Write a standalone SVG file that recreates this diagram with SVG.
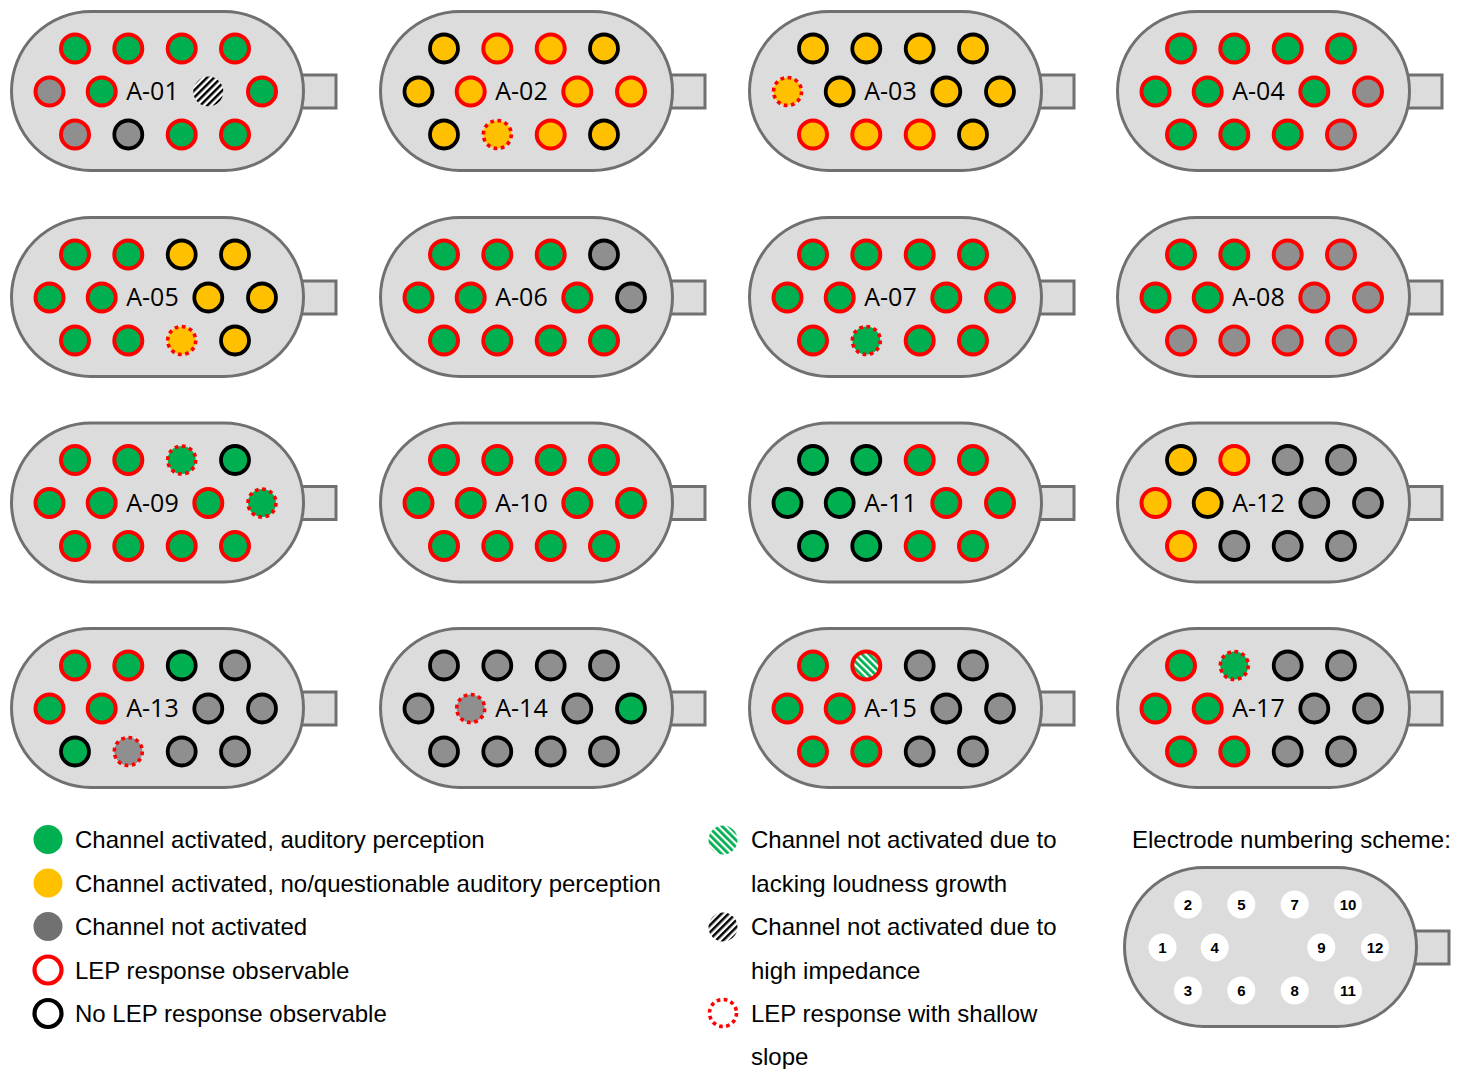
<svg xmlns="http://www.w3.org/2000/svg" xmlns:xlink="http://www.w3.org/1999/xlink" width="1463" height="1069" viewBox="0 0 1463 1069">
<style>
.pill{fill:#dcdcdc;stroke:#707070;stroke-width:3}
.conn{fill:#dcdcdc;stroke:#707070;stroke-width:3}
.lab{font-family:"Open Sans","Liberation Sans",sans-serif;font-size:25px;fill:#000;text-anchor:middle}
.leg{font-family:"Liberation Sans",Arial,sans-serif;font-size:24px;fill:#000}
.num{font-family:"Liberation Sans",Arial,sans-serif;font-size:15px;font-weight:bold;fill:#000;text-anchor:middle}
circle.g{fill:#00b050}
circle.y{fill:#ffc000}
circle.n{fill:#8f8f8f}
circle.r{stroke:#ff0000;stroke-width:4}
circle.b{stroke:#000;stroke-width:3.8}
circle.d{stroke:#ff0000;stroke-width:3.6;stroke-dasharray:3.7 3.6}
circle.hb{fill:url(#hatchBlack)}
circle.hg{fill:url(#hatchGreen)}
circle.w{fill:#fff}
</style>
<defs>
<pattern id="hatchBlack" patternUnits="userSpaceOnUse" width="5" height="5" patternTransform="rotate(45)">
<rect width="5" height="5" fill="#fff"/>
<rect width="2.5" height="5" fill="#000"/>
</pattern>
<pattern id="hatchGreen" patternUnits="userSpaceOnUse" width="5" height="5" patternTransform="rotate(-45)">
<rect width="5" height="5" fill="#fff"/>
<rect width="2.8" height="5" fill="#00b050"/>
</pattern>
<g id="body">
<rect class="conn" x="298" y="75" width="38" height="33"/>
<rect class="pill" x="11.5" y="11.5" width="292" height="159" rx="79.5" ry="79.5"/>
</g>
</defs>

<g id="A-01" transform="translate(0,0)">
<use xlink:href="#body"/>
<circle class="g r" cx="75" cy="48.5" r="14"/><circle class="g r" cx="128.3" cy="48.5" r="14"/><circle class="g r" cx="181.7" cy="48.5" r="14"/><circle class="g r" cx="235" cy="48.5" r="14"/>
<circle class="n r" cx="49.5" cy="91.5" r="14"/><circle class="g r" cx="101.7" cy="91.5" r="14"/><circle class="hb" cx="208.3" cy="91.5" r="15"/><circle class="g r" cx="262" cy="91.5" r="14"/>
<circle class="n r" cx="75" cy="134.5" r="14"/><circle class="n b" cx="128.3" cy="134.5" r="14"/><circle class="g r" cx="181.7" cy="134.5" r="14"/><circle class="g r" cx="235" cy="134.5" r="14"/>
<text class="lab" x="152.5" y="100">A-01</text>
</g>

<g id="A-02" transform="translate(369,0)">
<use xlink:href="#body"/>
<circle class="y b" cx="75" cy="48.5" r="14"/><circle class="y r" cx="128.3" cy="48.5" r="14"/><circle class="y r" cx="181.7" cy="48.5" r="14"/><circle class="y b" cx="235" cy="48.5" r="14"/>
<circle class="y b" cx="49.5" cy="91.5" r="14"/><circle class="y r" cx="101.7" cy="91.5" r="14"/><circle class="y r" cx="208.3" cy="91.5" r="14"/><circle class="y r" cx="262" cy="91.5" r="14"/>
<circle class="y b" cx="75" cy="134.5" r="14"/><circle class="y d" cx="128.3" cy="134.5" r="14"/><circle class="y r" cx="181.7" cy="134.5" r="14"/><circle class="y b" cx="235" cy="134.5" r="14"/>
<text class="lab" x="152.5" y="100">A-02</text>
</g>

<g id="A-03" transform="translate(738,0)">
<use xlink:href="#body"/>
<circle class="y b" cx="75" cy="48.5" r="14"/><circle class="y b" cx="128.3" cy="48.5" r="14"/><circle class="y b" cx="181.7" cy="48.5" r="14"/><circle class="y b" cx="235" cy="48.5" r="14"/>
<circle class="y d" cx="49.5" cy="91.5" r="14"/><circle class="y b" cx="101.7" cy="91.5" r="14"/><circle class="y b" cx="208.3" cy="91.5" r="14"/><circle class="y b" cx="262" cy="91.5" r="14"/>
<circle class="y r" cx="75" cy="134.5" r="14"/><circle class="y r" cx="128.3" cy="134.5" r="14"/><circle class="y r" cx="181.7" cy="134.5" r="14"/><circle class="y b" cx="235" cy="134.5" r="14"/>
<text class="lab" x="152.5" y="100">A-03</text>
</g>

<g id="A-04" transform="translate(1106,0)">
<use xlink:href="#body"/>
<circle class="g r" cx="75" cy="48.5" r="14"/><circle class="g r" cx="128.3" cy="48.5" r="14"/><circle class="g r" cx="181.7" cy="48.5" r="14"/><circle class="g r" cx="235" cy="48.5" r="14"/>
<circle class="g r" cx="49.5" cy="91.5" r="14"/><circle class="g r" cx="101.7" cy="91.5" r="14"/><circle class="g r" cx="208.3" cy="91.5" r="14"/><circle class="n r" cx="262" cy="91.5" r="14"/>
<circle class="g r" cx="75" cy="134.5" r="14"/><circle class="g r" cx="128.3" cy="134.5" r="14"/><circle class="g r" cx="181.7" cy="134.5" r="14"/><circle class="n r" cx="235" cy="134.5" r="14"/>
<text class="lab" x="152.5" y="100">A-04</text>
</g>

<g id="A-05" transform="translate(0,206)">
<use xlink:href="#body"/>
<circle class="g r" cx="75" cy="48.5" r="14"/><circle class="g r" cx="128.3" cy="48.5" r="14"/><circle class="y b" cx="181.7" cy="48.5" r="14"/><circle class="y b" cx="235" cy="48.5" r="14"/>
<circle class="g r" cx="49.5" cy="91.5" r="14"/><circle class="g r" cx="101.7" cy="91.5" r="14"/><circle class="y b" cx="208.3" cy="91.5" r="14"/><circle class="y b" cx="262" cy="91.5" r="14"/>
<circle class="g r" cx="75" cy="134.5" r="14"/><circle class="g r" cx="128.3" cy="134.5" r="14"/><circle class="y d" cx="181.7" cy="134.5" r="14"/><circle class="y b" cx="235" cy="134.5" r="14"/>
<text class="lab" x="152.5" y="100">A-05</text>
</g>

<g id="A-06" transform="translate(369,206)">
<use xlink:href="#body"/>
<circle class="g r" cx="75" cy="48.5" r="14"/><circle class="g r" cx="128.3" cy="48.5" r="14"/><circle class="g r" cx="181.7" cy="48.5" r="14"/><circle class="n b" cx="235" cy="48.5" r="14"/>
<circle class="g r" cx="49.5" cy="91.5" r="14"/><circle class="g r" cx="101.7" cy="91.5" r="14"/><circle class="g r" cx="208.3" cy="91.5" r="14"/><circle class="n b" cx="262" cy="91.5" r="14"/>
<circle class="g r" cx="75" cy="134.5" r="14"/><circle class="g r" cx="128.3" cy="134.5" r="14"/><circle class="g r" cx="181.7" cy="134.5" r="14"/><circle class="g r" cx="235" cy="134.5" r="14"/>
<text class="lab" x="152.5" y="100">A-06</text>
</g>

<g id="A-07" transform="translate(738,206)">
<use xlink:href="#body"/>
<circle class="g r" cx="75" cy="48.5" r="14"/><circle class="g r" cx="128.3" cy="48.5" r="14"/><circle class="g r" cx="181.7" cy="48.5" r="14"/><circle class="g r" cx="235" cy="48.5" r="14"/>
<circle class="g r" cx="49.5" cy="91.5" r="14"/><circle class="g r" cx="101.7" cy="91.5" r="14"/><circle class="g r" cx="208.3" cy="91.5" r="14"/><circle class="g r" cx="262" cy="91.5" r="14"/>
<circle class="g r" cx="75" cy="134.5" r="14"/><circle class="g d" cx="128.3" cy="134.5" r="14"/><circle class="g r" cx="181.7" cy="134.5" r="14"/><circle class="g r" cx="235" cy="134.5" r="14"/>
<text class="lab" x="152.5" y="100">A-07</text>
</g>

<g id="A-08" transform="translate(1106,206)">
<use xlink:href="#body"/>
<circle class="g r" cx="75" cy="48.5" r="14"/><circle class="g r" cx="128.3" cy="48.5" r="14"/><circle class="n r" cx="181.7" cy="48.5" r="14"/><circle class="n r" cx="235" cy="48.5" r="14"/>
<circle class="g r" cx="49.5" cy="91.5" r="14"/><circle class="g r" cx="101.7" cy="91.5" r="14"/><circle class="n r" cx="208.3" cy="91.5" r="14"/><circle class="n r" cx="262" cy="91.5" r="14"/>
<circle class="n r" cx="75" cy="134.5" r="14"/><circle class="n r" cx="128.3" cy="134.5" r="14"/><circle class="n r" cx="181.7" cy="134.5" r="14"/><circle class="n r" cx="235" cy="134.5" r="14"/>
<text class="lab" x="152.5" y="100">A-08</text>
</g>

<g id="A-09" transform="translate(0,411.5)">
<use xlink:href="#body"/>
<circle class="g r" cx="75" cy="48.5" r="14"/><circle class="g r" cx="128.3" cy="48.5" r="14"/><circle class="g d" cx="181.7" cy="48.5" r="14"/><circle class="g b" cx="235" cy="48.5" r="14"/>
<circle class="g r" cx="49.5" cy="91.5" r="14"/><circle class="g r" cx="101.7" cy="91.5" r="14"/><circle class="g r" cx="208.3" cy="91.5" r="14"/><circle class="g d" cx="262" cy="91.5" r="14"/>
<circle class="g r" cx="75" cy="134.5" r="14"/><circle class="g r" cx="128.3" cy="134.5" r="14"/><circle class="g r" cx="181.7" cy="134.5" r="14"/><circle class="g r" cx="235" cy="134.5" r="14"/>
<text class="lab" x="152.5" y="100">A-09</text>
</g>

<g id="A-10" transform="translate(369,411.5)">
<use xlink:href="#body"/>
<circle class="g r" cx="75" cy="48.5" r="14"/><circle class="g r" cx="128.3" cy="48.5" r="14"/><circle class="g r" cx="181.7" cy="48.5" r="14"/><circle class="g r" cx="235" cy="48.5" r="14"/>
<circle class="g r" cx="49.5" cy="91.5" r="14"/><circle class="g r" cx="101.7" cy="91.5" r="14"/><circle class="g r" cx="208.3" cy="91.5" r="14"/><circle class="g r" cx="262" cy="91.5" r="14"/>
<circle class="g r" cx="75" cy="134.5" r="14"/><circle class="g r" cx="128.3" cy="134.5" r="14"/><circle class="g r" cx="181.7" cy="134.5" r="14"/><circle class="g r" cx="235" cy="134.5" r="14"/>
<text class="lab" x="152.5" y="100">A-10</text>
</g>

<g id="A-11" transform="translate(738,411.5)">
<use xlink:href="#body"/>
<circle class="g b" cx="75" cy="48.5" r="14"/><circle class="g b" cx="128.3" cy="48.5" r="14"/><circle class="g r" cx="181.7" cy="48.5" r="14"/><circle class="g r" cx="235" cy="48.5" r="14"/>
<circle class="g b" cx="49.5" cy="91.5" r="14"/><circle class="g b" cx="101.7" cy="91.5" r="14"/><circle class="g r" cx="208.3" cy="91.5" r="14"/><circle class="g r" cx="262" cy="91.5" r="14"/>
<circle class="g b" cx="75" cy="134.5" r="14"/><circle class="g b" cx="128.3" cy="134.5" r="14"/><circle class="g r" cx="181.7" cy="134.5" r="14"/><circle class="g r" cx="235" cy="134.5" r="14"/>
<text class="lab" x="152.5" y="100">A-11</text>
</g>

<g id="A-12" transform="translate(1106,411.5)">
<use xlink:href="#body"/>
<circle class="y b" cx="75" cy="48.5" r="14"/><circle class="y r" cx="128.3" cy="48.5" r="14"/><circle class="n b" cx="181.7" cy="48.5" r="14"/><circle class="n b" cx="235" cy="48.5" r="14"/>
<circle class="y r" cx="49.5" cy="91.5" r="14"/><circle class="y b" cx="101.7" cy="91.5" r="14"/><circle class="n b" cx="208.3" cy="91.5" r="14"/><circle class="n b" cx="262" cy="91.5" r="14"/>
<circle class="y r" cx="75" cy="134.5" r="14"/><circle class="n b" cx="128.3" cy="134.5" r="14"/><circle class="n b" cx="181.7" cy="134.5" r="14"/><circle class="n b" cx="235" cy="134.5" r="14"/>
<text class="lab" x="152.5" y="100">A-12</text>
</g>

<g id="A-13" transform="translate(0,617)">
<use xlink:href="#body"/>
<circle class="g r" cx="75" cy="48.5" r="14"/><circle class="g r" cx="128.3" cy="48.5" r="14"/><circle class="g b" cx="181.7" cy="48.5" r="14"/><circle class="n b" cx="235" cy="48.5" r="14"/>
<circle class="g r" cx="49.5" cy="91.5" r="14"/><circle class="g r" cx="101.7" cy="91.5" r="14"/><circle class="n b" cx="208.3" cy="91.5" r="14"/><circle class="n b" cx="262" cy="91.5" r="14"/>
<circle class="g b" cx="75" cy="134.5" r="14"/><circle class="n d" cx="128.3" cy="134.5" r="14"/><circle class="n b" cx="181.7" cy="134.5" r="14"/><circle class="n b" cx="235" cy="134.5" r="14"/>
<text class="lab" x="152.5" y="100">A-13</text>
</g>

<g id="A-14" transform="translate(369,617)">
<use xlink:href="#body"/>
<circle class="n b" cx="75" cy="48.5" r="14"/><circle class="n b" cx="128.3" cy="48.5" r="14"/><circle class="n b" cx="181.7" cy="48.5" r="14"/><circle class="n b" cx="235" cy="48.5" r="14"/>
<circle class="n b" cx="49.5" cy="91.5" r="14"/><circle class="n d" cx="101.7" cy="91.5" r="14"/><circle class="n b" cx="208.3" cy="91.5" r="14"/><circle class="g b" cx="262" cy="91.5" r="14"/>
<circle class="n b" cx="75" cy="134.5" r="14"/><circle class="n b" cx="128.3" cy="134.5" r="14"/><circle class="n b" cx="181.7" cy="134.5" r="14"/><circle class="n b" cx="235" cy="134.5" r="14"/>
<text class="lab" x="152.5" y="100">A-14</text>
</g>

<g id="A-15" transform="translate(738,617)">
<use xlink:href="#body"/>
<circle class="g r" cx="75" cy="48.5" r="14"/><circle class="hg r" cx="128.3" cy="48.5" r="14"/><circle class="n b" cx="181.7" cy="48.5" r="14"/><circle class="n b" cx="235" cy="48.5" r="14"/>
<circle class="g r" cx="49.5" cy="91.5" r="14"/><circle class="g r" cx="101.7" cy="91.5" r="14"/><circle class="n b" cx="208.3" cy="91.5" r="14"/><circle class="n b" cx="262" cy="91.5" r="14"/>
<circle class="g r" cx="75" cy="134.5" r="14"/><circle class="g r" cx="128.3" cy="134.5" r="14"/><circle class="n b" cx="181.7" cy="134.5" r="14"/><circle class="n b" cx="235" cy="134.5" r="14"/>
<text class="lab" x="152.5" y="100">A-15</text>
</g>

<g id="A-17" transform="translate(1106,617)">
<use xlink:href="#body"/>
<circle class="g r" cx="75" cy="48.5" r="14"/><circle class="g d" cx="128.3" cy="48.5" r="14"/><circle class="n b" cx="181.7" cy="48.5" r="14"/><circle class="n b" cx="235" cy="48.5" r="14"/>
<circle class="g r" cx="49.5" cy="91.5" r="14"/><circle class="g r" cx="101.7" cy="91.5" r="14"/><circle class="n b" cx="208.3" cy="91.5" r="14"/><circle class="n b" cx="262" cy="91.5" r="14"/>
<circle class="g r" cx="75" cy="134.5" r="14"/><circle class="g r" cx="128.3" cy="134.5" r="14"/><circle class="n b" cx="181.7" cy="134.5" r="14"/><circle class="n b" cx="235" cy="134.5" r="14"/>
<text class="lab" x="152.5" y="100">A-17</text>
</g>

<g id="legend-left">
<circle cx="48" cy="839.5" r="14.5" fill="#00b050"/>
<text class="leg" x="75" y="848">Channel activated, auditory perception</text>
<circle cx="48" cy="883" r="14.5" fill="#ffc000"/>
<text class="leg" x="75" y="891.5">Channel activated, no/questionable auditory perception</text>
<circle cx="48" cy="926.5" r="14.5" fill="#717171"/>
<text class="leg" x="75" y="935">Channel not activated</text>
<circle cx="48" cy="970" r="13.5" fill="#fff" stroke="#ff0000" stroke-width="4.2"/>
<text class="leg" x="75" y="978.5">LEP response observable</text>
<circle cx="48" cy="1013.5" r="13.5" fill="#fff" stroke="#000" stroke-width="4.2"/>
<text class="leg" x="75" y="1022">No LEP response observable</text>
</g>

<g id="legend-middle">
<circle cx="723" cy="840" r="14.5" fill="url(#hatchGreen)"/>
<text class="leg" x="751" y="848">Channel not activated due to</text>
<text class="leg" x="751" y="891.5">lacking loudness growth</text>
<circle cx="723" cy="927" r="14.5" fill="url(#hatchBlack)"/>
<text class="leg" x="751" y="935">Channel not activated due to</text>
<text class="leg" x="751" y="978.5">high impedance</text>
<circle cx="723" cy="1013" r="13.5" fill="#fff" stroke="#ff0000" stroke-width="3.6" stroke-dasharray="3.7 3.4"/>
<text class="leg" x="751" y="1022">LEP response with shallow</text>
<text class="leg" x="751" y="1065">slope</text>
</g>

<g id="numbering-scheme">
<text class="leg" x="1132" y="848">Electrode numbering scheme:</text>
<g transform="translate(1113,856)">
<use xlink:href="#body"/>
<circle class="w" cx="75" cy="48.5" r="14"/><circle class="w" cx="128.3" cy="48.5" r="14"/><circle class="w" cx="181.7" cy="48.5" r="14"/><circle class="w" cx="235" cy="48.5" r="14"/>
<circle class="w" cx="49.5" cy="91.5" r="14"/><circle class="w" cx="101.7" cy="91.5" r="14"/><circle class="w" cx="208.3" cy="91.5" r="14"/><circle class="w" cx="262" cy="91.5" r="14"/>
<circle class="w" cx="75" cy="134.5" r="14"/><circle class="w" cx="128.3" cy="134.5" r="14"/><circle class="w" cx="181.7" cy="134.5" r="14"/><circle class="w" cx="235" cy="134.5" r="14"/>
<text class="num" x="75" y="54">2</text><text class="num" x="128.3" y="54">5</text><text class="num" x="181.7" y="54">7</text><text class="num" x="235" y="54">10</text>
<text class="num" x="49.5" y="97">1</text><text class="num" x="101.7" y="97">4</text><text class="num" x="208.3" y="97">9</text><text class="num" x="262" y="97">12</text>
<text class="num" x="75" y="140">3</text><text class="num" x="128.3" y="140">6</text><text class="num" x="181.7" y="140">8</text><text class="num" x="235" y="140">11</text>
</g>
</g>
</svg>
